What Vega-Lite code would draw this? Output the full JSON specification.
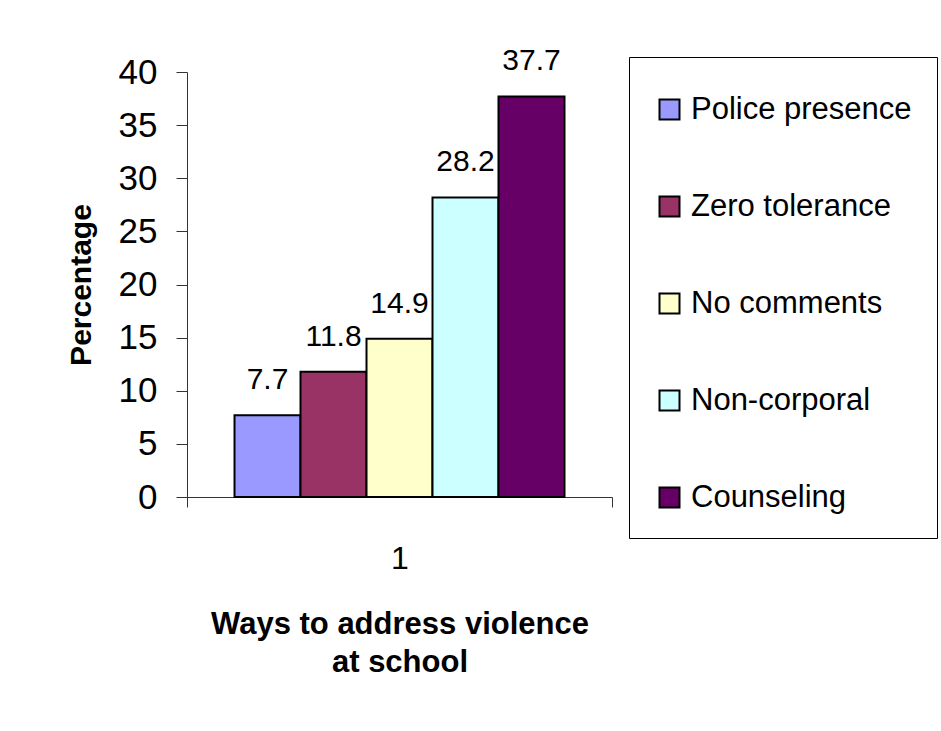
{
  "$schema": "https://vega.github.io/schema/vega-lite/v6.json",
  "autosize": {"type": "none"},
  "width": 425,
  "height": 425,
  "padding": {"left": 187, "top": 72, "right": 329, "bottom": 234},
  "background": "white",
  "config": {
    "font": "Liberation Sans",
    "view": {"stroke": null},
    "axis": {"grid": false}
  },
  "data": {
    "values": [
      {"group": "1", "method": "Police presence", "pct": 7.7},
      {"group": "1", "method": "Zero tolerance", "pct": 11.8},
      {"group": "1", "method": "No comments", "pct": 14.9},
      {"group": "1", "method": "Non-corporal", "pct": 28.2},
      {"group": "1", "method": "Counseling", "pct": 37.7}
    ]
  },
  "encoding": {
    "x": {
      "field": "group",
      "type": "nominal",
      "scale": {"paddingInner": 0, "paddingOuter": 0},
      "axis": {
        "title": ["Ways to address violence", "at school"],
        "titleFontSize": 31,
        "titleFontWeight": "bold",
        "titleColor": "black",
        "titleLineHeight": 38,
        "titlePadding": 35,
        "labelAngle": 0,
        "labelFontSize": 32,
        "labelColor": "black",
        "labelPadding": 36,
        "tickSize": 10,
        "tickBand": "extent",
        "tickColor": "#333",
        "domainColor": "#333"
      }
    },
    "xOffset": {
      "field": "method",
      "type": "nominal",
      "sort": null,
      "scale": {"paddingInner": 0, "paddingOuter": 0.72}
    },
    "y": {
      "field": "pct",
      "type": "quantitative",
      "scale": {"domain": [0, 40], "nice": false},
      "axis": {
        "title": "Percentage",
        "titleFontSize": 30,
        "titleFontWeight": "bold",
        "titleColor": "black",
        "titlePadding": 22,
        "values": [0, 5, 10, 15, 20, 25, 30, 35, 40],
        "labelFontSize": 35,
        "labelColor": "black",
        "labelPadding": 19,
        "tickSize": 11,
        "tickColor": "#333",
        "domainColor": "#333"
      }
    }
  },
  "layer": [
    {
      "mark": {"type": "bar", "stroke": "black", "strokeWidth": 2},
      "encoding": {
        "color": {
          "field": "method",
          "type": "nominal",
          "sort": null,
          "scale": {
            "domain": ["Police presence", "Zero tolerance", "No comments", "Non-corporal", "Counseling"],
            "range": ["#9999FF", "#993366", "#FFFFCC", "#CCFFFF", "#660066"]
          },
          "legend": {
            "orient": "none",
            "legendX": 442,
            "legendY": -15,
            "title": " ",
            "titleFontSize": 8,
            "titlePadding": 4,
            "symbolType": "square",
            "symbolSize": 400,
            "symbolStrokeColor": "black",
            "symbolStrokeWidth": 2,
            "symbolOpacity": 1,
            "labelFontSize": 31,
            "labelColor": "black",
            "labelLimit": 400,
            "labelOffset": 6,
            "rowPadding": 65,
            "padding": 25,
            "strokeColor": "black",
            "fillColor": "white"
          }
        }
      }
    },
    {
      "mark": {"type": "text", "baseline": "alphabetic", "dy": -26, "fontSize": 30, "color": "black"},
      "encoding": {
        "text": {"field": "pct", "type": "quantitative", "format": ".1f"}
      }
    }
  ]
}
